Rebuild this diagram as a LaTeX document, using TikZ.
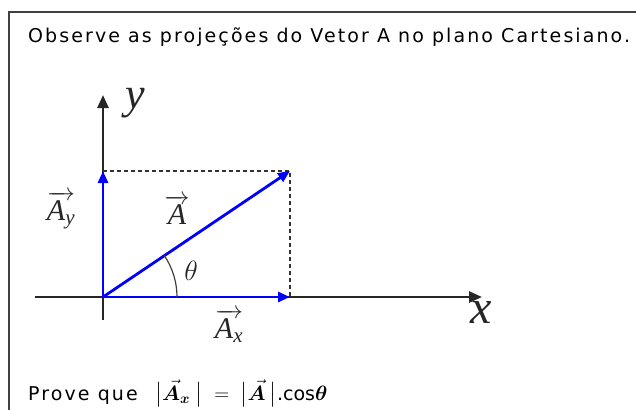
\documentclass[tikz,border=0pt]{standalone}
\usepackage{amsmath}
\usepackage{bm}
\usepackage{fontspec}
\setmainfont[LetterSpace=11]{DejaVu Sans}
\newfontfamily\plainsans{DejaVu Sans}
\newfontfamily\serifit{Liberation Serif}
\newcommand{\tl}[1]{\text{\serifit\itshape #1}}
\usetikzlibrary{arrows.meta}
\begin{document}
\begin{tikzpicture}[x=1pt,y=-1pt,
  axis/.style={draw=black!85,line width=2.6pt,-{Triangle[length=13pt,width=11pt]}},
  vecline/.style={draw=blue,line width=2.8pt,-{Triangle[length=12pt,width=10pt]}},
  guide/.style={draw=black!80,line width=1.3pt,dash pattern=on 4pt off 3pt},
  frame/.style={draw=black!75,line width=1.4pt},
  lbl/.style={inner sep=0pt,text=black!85,font=\fontsize{30}{32}\selectfont},
  txt/.style={inner sep=0pt,anchor=base west,font=\fontsize{19}{22}\selectfont}]
\useasboundingbox (0,0) rectangle (636,410);
\fill[white] (0,0) rectangle (636,410);
% frame (top and left)
\coordinate (fl) at (9,410);
\coordinate (ft) at (9,12);
\coordinate (fr) at (636,12);
\draw[frame] (fl) -- (ft) -- (fr);
% texts
\node[txt] (title) at (28,42) {Observe as projeções do Vetor A no plano Cartesiano.};
\node[txt] (prove) at (28,400) {Prove que};
\node[inner sep=0pt,anchor=base west,font=\fontsize{20.74}{24}\selectfont] (eq) at (155,400)
  {\(\big|\vec{\bm{A}}_{\bm{x}}\;\big|\;=\;\big|\vec{\bm{A}}\,\big|\)\hspace{1pt}{\plainsans\fontsize{19}{22}\selectfont.cos}\(\bm{\theta}\)};
% axes
\coordinate (O) at (103,297);
\coordinate (xl) at (35,297);
\coordinate (xr) at (482,297);
\coordinate (yb) at (103,320);
\coordinate (yt) at (103,95);
\draw[axis] (xl) -- (xr);
\draw[axis] (yb) -- (yt);
% guides
\coordinate (P) at (290,171);
\coordinate (Px) at (290,297);
\coordinate (Py) at (103,171);
\draw[guide] (Py) -- (P) -- (Px);
% vectors
\draw[vecline] (O) -- (Px);
\draw[vecline] (O) -- (Py);
\draw[vecline] (O) -- (P);
% angle
\draw[black!75,line width=1.2pt] (O) ++(74pt,0pt) arc[start angle=0,end angle=34.2,radius=74pt];
% labels
\node[lbl,font=\fontsize{24.88}{26}\selectfont] (th) at (191,271) {\scalebox{1.12}{\(\theta\)}};
\node[inner sep=0pt,text=black!85,font=\serifit\itshape\fontsize{48}{48}\selectfont] (xlab) at (481,312) {x};
\node[inner sep=0pt,text=black!85,font=\serifit\itshape\fontsize{44}{44}\selectfont] (ylab) at (135,103) {y};
\node[lbl] (Ay) at (61,210) {\(\overrightarrow{\tl{A}_{\tl{y}}}\)};
\node[lbl] (A) at (177,210) {\(\overrightarrow{\tl{A}}\)};
\node[lbl] (Ax) at (229,326) {\(\overrightarrow{\tl{A}_{\tl{x}}}\)};
\end{tikzpicture}
\end{document}
